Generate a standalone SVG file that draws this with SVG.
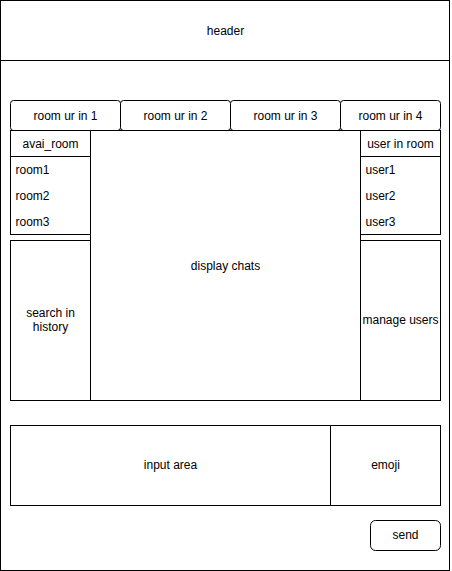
<svg xmlns="http://www.w3.org/2000/svg" width="452" height="571" viewBox="0 0 452 571">
<style>
.b{fill:#fff;stroke:#000;stroke-width:1}
.t{font-family:"Liberation Sans",Arial,sans-serif;font-size:12px;fill:#000;text-anchor:middle;dominant-baseline:central}
.l{text-anchor:start}
</style>
<rect width="452" height="571" fill="#fff"/>
<g transform="translate(0.5,0.5)">
<g id="frame"><rect class="b" x="0" y="0" width="449" height="570"/></g>
<g id="header"><rect class="b" x="0" y="0" width="449" height="60"/><text class="t" x="225" y="30">header</text></g>
<g id="tab1"><rect class="b" x="10" y="100" width="110" height="30" rx="3"/><text class="t" x="65" y="115">room ur in 1</text></g>
<g id="tab2"><rect class="b" x="120" y="100" width="110" height="30" rx="3"/><text class="t" x="175" y="115">room ur in 2</text></g>
<g id="tab3"><rect class="b" x="230" y="100" width="110" height="30" rx="3"/><text class="t" x="285" y="115">room ur in 3</text></g>
<g id="tab4"><rect class="b" x="340" y="100" width="100" height="30" rx="3"/><text class="t" x="390" y="115">room ur in 4</text></g>
<g id="display"><rect class="b" x="90" y="130" width="270" height="270"/><text class="t" x="225" y="265">display chats</text></g>
<g id="avai_room">
<rect class="b" x="10" y="130" width="80" height="104"/>
<line x1="10" y1="156" x2="90" y2="156" stroke="#000"/>
<text class="t" x="50" y="143">avai_room</text>
<text class="t l" x="15" y="169">room1</text>
<text class="t l" x="15" y="195">room2</text>
<text class="t l" x="15" y="221">room3</text>
</g>
<g id="user_in_room">
<rect class="b" x="360" y="130" width="80" height="104"/>
<line x1="360" y1="156" x2="440" y2="156" stroke="#000"/>
<text class="t" x="400" y="143">user in room</text>
<text class="t l" x="365" y="169">user1</text>
<text class="t l" x="365" y="195">user2</text>
<text class="t l" x="365" y="221">user3</text>
</g>
<g id="search"><rect class="b" x="10" y="240" width="80" height="160"/><text class="t" x="50" y="312">search in</text><text class="t" x="50" y="326">history</text></g>
<g id="manage"><rect class="b" x="360" y="240" width="80" height="160"/><text class="t" x="400" y="319">manage users</text></g>
<g id="input"><rect class="b" x="10" y="425" width="320" height="80"/><text class="t" x="170" y="464">input area</text></g>
<g id="emoji"><rect class="b" x="330" y="425" width="110" height="80"/><text class="t" x="385" y="464">emoji</text></g>
<g id="send"><rect class="b" x="370" y="520" width="70" height="30" rx="5"/><text class="t" x="405" y="534">send</text></g>
<g id="connectors"/>
</g>
</svg>
